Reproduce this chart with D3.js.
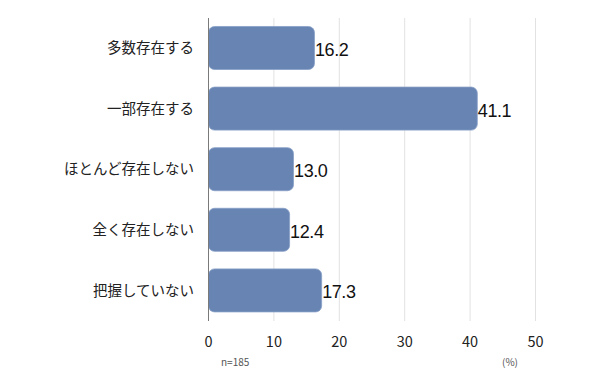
<!DOCTYPE html>
<html>
<head>
<meta charset="utf-8">
<script src="https://cdn.jsdelivr.net/npm/d3@7"></script>
<style>
  body { margin: 0; background: #fff; }
  svg { display: block; }
</style>
</head>
<body>
<svg width="590" height="383"></svg>
<script>
// 回答項目と割合（%）
var categories = ["多数存在する", "一部存在する", "ほとんど存在しない", "全く存在しない", "把握していない"];
var values = [16.2, 41.1, 13.0, 12.4, 17.3];
var ticks = [0, 10, 20, 30, 40, 50];

var svg = d3.select("svg");
var jp = "'Noto Sans CJK JP', 'Noto Sans', sans-serif";

var x = d3.scaleLinear().domain([0, 50]).range([208.5, 535.5]);
var y = d3.scaleBand().domain(categories).range([17.7, 320.7])
    .paddingInner(0.29).paddingOuter(0.145);

// 目盛り線
svg.append("g").selectAll("line.grid")
    .data(ticks.slice(1))
    .enter()
    .append("line")
    .attr("x1", function (d) { return x(d); })
    .attr("x2", function (d) { return x(d); })
    .attr("y1", 18)
    .attr("y2", 321)
    .attr("stroke", "#e2e2e2")
    .attr("stroke-width", 1);

// 棒
svg.append("g").selectAll("rect")
    .data(values)
    .enter()
    .append("rect")
    .attr("x", x(0))
    .attr("y", function (d, i) { return y(categories[i]); })
    .attr("width", function (d) { return x(d) - x(0); })
    .attr("height", y.bandwidth())
    .attr("rx", 6)
    .attr("fill", "#6884b3")
    .attr("stroke", "#87a0c6")
    .attr("stroke-width", 0.8);

// 0 の軸線
svg.append("line")
    .attr("x1", x(0)).attr("x2", x(0))
    .attr("y1", 18).attr("y2", 321)
    .attr("stroke", "#7a7a7a")
    .attr("stroke-width", 1);

// 値ラベル
svg.append("g").selectAll("text.val")
    .data(values)
    .enter()
    .append("text")
    .attr("x", function (d) { return x(d) + 0.5; })
    .attr("y", function (d, i) { return y(categories[i]) + y.bandwidth() / 2; })
    .attr("dy", "0.44em")
    .attr("font-family", "'Liberation Sans', Arial, sans-serif")
    .attr("font-size", 18)
    .attr("letter-spacing", "-0.4")
    .attr("fill", "#111")
    .text(function (d) { return d.toFixed(1); });

// 項目ラベル
svg.append("g").selectAll("text.cat")
    .data(categories)
    .enter()
    .append("text")
    .attr("x", 194)
    .attr("y", function (d) { return y(d) + y.bandwidth() / 2; })
    .attr("dy", "0.36em")
    .attr("text-anchor", "end")
    .attr("font-family", jp)
    .attr("font-size", 14.5)
    .attr("fill", "#222")
    .text(function (d) { return d; });

// x 軸の目盛りラベル
svg.append("g").selectAll("text.tick")
    .data(ticks)
    .enter()
    .append("text")
    .attr("x", function (d) { return x(d); })
    .attr("y", 341.5)
    .attr("dy", "0.36em")
    .attr("text-anchor", "middle")
    .attr("font-family", jp)
    .attr("font-size", 14.5)
    .attr("fill", "#222")
    .text(function (d) { return d; });

// 注記
svg.append("text")
    .attr("x", 221).attr("y", 362).attr("dy", "0.36em")
    .attr("font-family", jp).attr("font-size", 10).attr("fill", "#555")
    .text("n=185");
svg.append("text")
    .attr("x", 510).attr("y", 362).attr("dy", "0.36em")
    .attr("text-anchor", "middle")
    .attr("font-family", jp).attr("font-size", 10).attr("fill", "#555")
    .text("(%)");
</script>
</body>
</html>
